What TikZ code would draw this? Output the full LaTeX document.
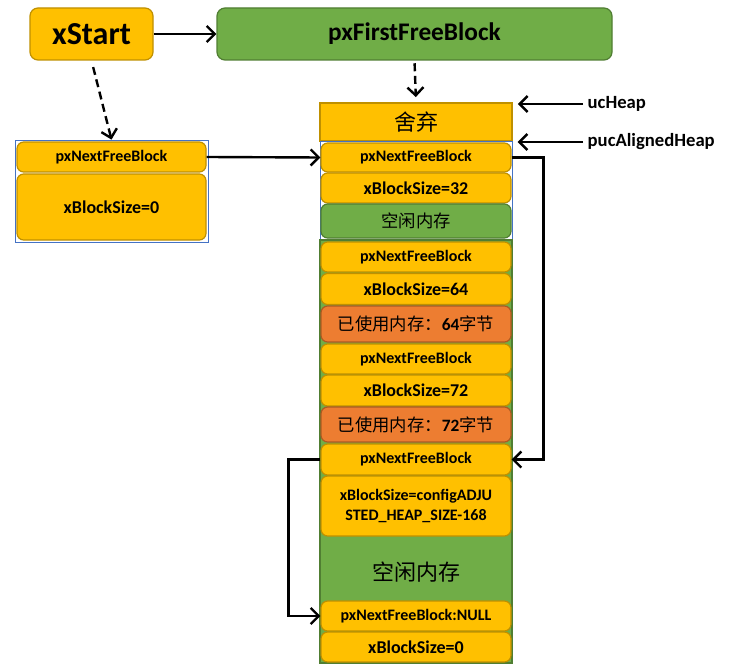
\documentclass[tikz,border=0pt]{standalone}
\usepackage{fontspec}
\setmainfont{Carlito}
\newfontfamily\cjk{Noto Sans CJK SC}
\usetikzlibrary{arrows.meta,positioning}
\definecolor{heapyellow}{HTML}{FFC000}
\definecolor{heapyellowline}{HTML}{BF9000}
\definecolor{heapgreen}{HTML}{70AD47}
\definecolor{heapgreenline}{HTML}{507E32}
\definecolor{heaporange}{HTML}{ED7D31}
\definecolor{heaporangeline}{HTML}{AE5A21}
\definecolor{heapblue}{HTML}{4472C4}

\tikzset{
  sz/.style 2 args={minimum width=#1*0.75pt, minimum height=#2*0.75pt},
  field/.style={draw=heapyellowline, fill=heapyellow, rounded corners=5pt, line width=0.9pt, inner sep=0pt, font=\bfseries\fontsize{12}{14.5}\selectfont, align=center},
  sizefield/.style={field, font=\bfseries\fontsize{13.5}{16}\selectfont},
  freefield/.style={field, draw=heapgreenline, fill=heapgreen, font=\cjk\fontsize{13}{15}\selectfont},
  usedfield/.style={field, draw=heaporangeline, fill=heaporange, font=\fontsize{13}{15}\selectfont},
  heapframe/.style={draw=heapblue, line width=0.6pt, fill=white, inner sep=0pt},
  ptr/.style={-{Straight Barb[length=6pt,width=12pt]}, line width=1.8pt},
  dptr/.style={ptr, dash pattern=on 6pt off 3.5pt},
  tag/.style={font=\bfseries\fontsize{14}{16}\selectfont, anchor=west},
}

\begin{document}
\begin{tikzpicture}[x=0.75pt, y=-0.75pt]
\useasboundingbox (0,0) rectangle (745,670);

% pointers on top
\node[field, sz={123}{52}, rounded corners=6pt, font=\bfseries\fontsize{24}{28}\selectfont] (xstart) at (91.5,34) {xStart};
\node[field, sz={395}{52}, rounded corners=6pt, draw=heapgreenline, fill=heapgreen, font=\bfseries\fontsize{19}{22}\selectfont] (firstfree) at (414.5,34) {pxFirstFreeBlock};

% xStart block
\node[heapframe, sz={193}{102}] (lframe) at (111.5,191) {};
\node[field, sz={189}{30}] (lnext) at (111.5,157) {pxNextFreeBlock};
\node[sizefield, sz={189}{66}] (lsize) at (111.5,207) {xBlockSize=0};

% the heap
\node[field, rounded corners=0pt, sz={192}{38}, font=\cjk\fontsize{16.5}{18}\selectfont] (discard) at (416,122) {舍弃};
\node[heapframe, sz={192}{99}] (bframe) at (416,190.5) {};
\node[draw=heapgreenline, fill=heapgreen, line width=0.9pt, inner sep=0pt, sz={192}{423}] (gframe) at (416,451.5) {};

\node[field, sz={190}{29}] (next1) at (416,157.5) {pxNextFreeBlock};
\node[sizefield, sz={190}{30}] (size1) at (416,188) {xBlockSize=32};
\node[freefield, sz={190}{34}] (free1) at (416,221) {空闲内存};

\node[field, sz={190}{30}] (next2) at (416,257) {pxNextFreeBlock};
\node[sizefield, sz={190}{31}] (size2) at (416,289) {xBlockSize=64};
\node[usedfield, sz={190}{36}] (used2) at (416,324) {{\cjk 已使用内存：}\textbf{64}{\cjk 字节}};

\node[field, sz={190}{30}] (next3) at (416,359) {pxNextFreeBlock};
\node[sizefield, sz={190}{31}] (size3) at (416,390.5) {xBlockSize=72};
\node[usedfield, sz={190}{35}] (used3) at (416,424.5) {{\cjk 已使用内存：}\textbf{72}{\cjk 字节}};

\node[field, sz={190}{31}] (next4) at (416,459.5) {pxNextFreeBlock};
\node[field, sz={190}{60}] (size4) at (416,506) {xBlockSize=configADJU\\STED\_HEAP\_SIZE-168};
\node[font=\cjk\fontsize{16.5}{18}\selectfont] (free4) at (416,572) {空闲内存};

\node[field, sz={190}{30}] (next5) at (416,616) {pxNextFreeBlock:NULL};
\node[sizefield, sz={190}{30}] (size5) at (416,647) {xBlockSize=0};

% labels
\node[tag] (ucheap) at (583,104) {ucHeap};
\node[tag] (aligned) at (583,142) {pucAlignedHeap};

% links
\draw[ptr] (xstart) -- (firstfree);
\draw[dptr, shorten <=5pt] (xstart.south) -- (lframe.north);
\draw[dptr, shorten <=2pt, shorten >=4pt] (firstfree.south) -- (discard.north);
\draw[ptr] (lnext.east) -- (next1.west);
\draw[ptr] (ucheap.west) -- ([xshift=4pt]ucheap.west -| discard.east);
\draw[ptr] (aligned.west) -- ([xshift=4pt]aligned.west -| bframe.east);
\draw[ptr] (next1.east) -- ++(32,0) |- (next4.east);
\draw[ptr] (next4.west) -- ++(-32,0) |- (next5.west);
\end{tikzpicture}
\end{document}
